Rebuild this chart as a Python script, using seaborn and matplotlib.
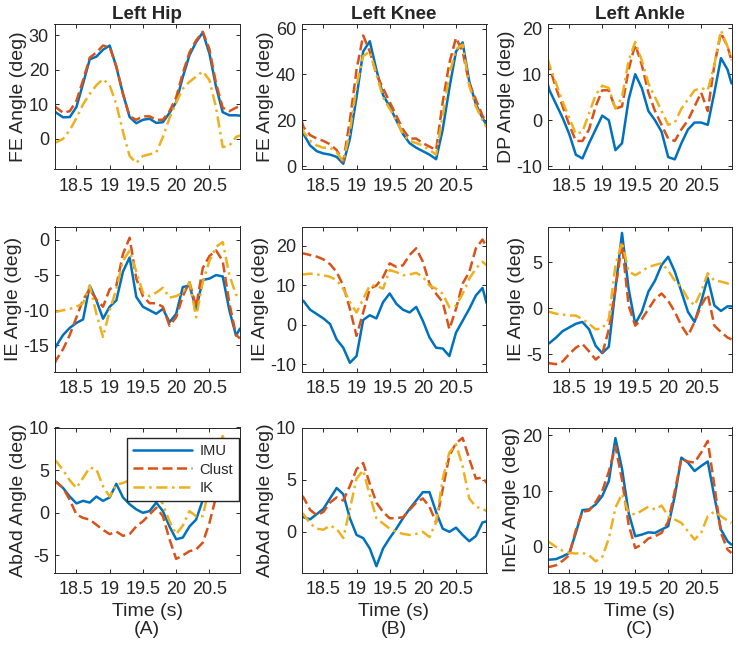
import numpy as np
import pandas as pd
import matplotlib
matplotlib.use('Agg')
import matplotlib.pyplot as plt
from matplotlib.lines import Line2D
import seaborn as sns

sns.set_style('ticks')
plt.rcParams['font.family'] = ['Liberation Sans', 'DejaVu Sans']
plt.rcParams['axes.unicode_minus'] = False

# time axis (s)
TIME = [18.17, 18.2, 18.3, 18.4, 18.5, 18.6, 18.7, 18.8, 18.9, 19.0,
        19.1, 19.2, 19.3, 19.4, 19.5, 19.6, 19.7, 19.8, 19.9, 20.0,
        20.1, 20.2, 20.3, 20.4, 20.5, 20.6, 20.7, 20.8, 20.9, 20.96]

SOURCES = ['IMU', 'Clust', 'IK']
JOINTS = ['Left Hip', 'Left Knee', 'Left Ankle']
PANEL_TAGS = ['(A)', '(B)', '(C)']
XTICKS = [18.5, 19, 19.5, 20, 20.5]
XTICK_LABELS = ['18.5', '19', '19.5', '20', '20.5']

# hip
hip_fe_imu = [8, 7.5, 6.2, 6.3, 9.2, 16, 23, 23.8, 25.8, 27, 20.8, 13, 6.3, 4.5, 5.5,
              5.8, 4.6, 4.8, 7.5, 10.6, 17.9, 24.2, 28, 30.8, 24.7, 15, 7.7, 6.8, 6.8, 6.7]
hip_fe_clust = [9.5, 9, 7.5, 8, 11, 17, 23.5, 25, 27, 26.5, 21, 13, 6.5, 5.5, 6.5,
                6.5, 5.5, 5.5, 8, 12, 19, 25, 28.5, 31, 26, 16, 9, 8, 9, 9.5]
hip_fe_ik = [-1, -1, 0, 2.5, 6, 10, 13, 15.5, 17.3, 15.5, 10, 2, -5, -7, -5,
             -4.5, -4, 0.5, 6, 10.5, 14.5, 16.5, 18, 19.5, 17, 9, -2.4, -2, 0.5, 1]

hip_ie_imu = [-15.5, -15, -13.5, -12.5, -11.8, -11.3, -6.5, -8.6, -11.2, -9.5, -8.6, -4.5, -2.5, -8.1, -9.5,
              -10, -10.5, -9.8, -11.7, -10.5, -6.7, -6.5, -9.8, -5.7, -5.5, -5, -5.2, -10, -13.6, -12.6]
hip_ie_clust = [-17.6, -17, -15.5, -13.5, -11, -8.5, -7, -8.5, -9.5, -7, -6.5, -2, 0.3, -5.5, -8,
                -9, -9, -9.5, -12.2, -11, -8, -6, -9.5, -4, -2.3, -1.5, -3, -9, -13.5, -14]
hip_ie_ik = [-10.3, -10.2, -10, -9.8, -9.5, -9, -6.5, -10.5, -13.8, -10, -7, -3, -1.5, -4.5, -7.5,
             -8, -7.5, -6.8, -8.2, -8, -7.5, -6, -11, -6, -3, -1, -0.3, -5, -7.8, -8]

hip_abad_imu = [3.7, 3.6, 2.9, 1.9, 1.1, 1.4, 1.2, 1.9, 1.4, 1.8, 3.4, 1.8, 1, 0.4, 0,
                0.2, 1.2, 0.2, -1.6, -3.1, -2.9, -1.6, -0.8, 1.5, 4.5, 6.2, 6.2, 5.5, 4.7, 4.1]
hip_abad_clust = [3.7, 3.6, 2.9, 1.5, -0.2, -0.6, -0.8, -1.4, -2.0, -2.5, -2.2, -2.7, -2.5, -1.6, -1,
                  -0.2, 0.6, -0.4, -3.1, -5.4, -5, -4.5, -4.3, -3.5, -1.2, 1.9, 3.5, 3.2, 2.9, 2.9]
hip_abad_ik = [6.2, 6, 5, 3.8, 2.9, 4.1, 5.3, 5.1, 3.1, 1.9, 3.3, 3.5, 3.8, 4, 3.5,
               3.2, 2.5, 1, -1, -2.5, -1.5, 0.2, -0.4, -0.4, 3.1, 7, 9, 7.5, 6, 5.5]

# knee
knee_fe_imu = [16, 14, 9, 6.5, 5.5, 5, 4, 1, 12, 30, 50, 54.5, 42, 31, 26,
               20, 14, 10, 8, 6.5, 5, 3, 16, 34, 50, 54, 37, 27, 21, 18]
knee_fe_clust = [20, 17, 13.5, 12, 11, 9.5, 7, 2, 20, 42, 57, 50, 40, 34, 28,
                 22, 16, 12, 12, 10, 8.5, 7, 28, 45, 56, 50, 36, 29, 22, 19]
knee_fe_ik = [17, 15, 11, 9, 8, 8, 6, 2, 15, 35, 48, 50, 40, 30, 25,
              20, 14, 11, 10, 9, 7, 5, 22, 40, 51, 53, 35, 26, 20, 17]

knee_ie_imu = [6.2, 6, 3.8, 2.7, 1.6, 0.2, -3.7, -5.8, -9.6, -7.9, 1.2, 2.4, 1.6, 5.7, 7.9,
               5.3, 3.8, 3.1, 4.5, 1, -3.2, -5.8, -6, -7.9, -2, 1, 4, 7.4, 9.3, 5.5]
knee_ie_clust = [18, 18, 17.6, 17.2, 16.5, 15.3, 13.3, 9.9, 4, -2.8, 3.1, 9.1, 9.9, 12, 15.5,
                 14.6, 15, 17.6, 19.3, 15.9, 10.4, 7.8, 5.7, -1.1, 4, 10.4, 13.3, 19.3, 21.5, 19.7]
knee_ie_ik = [12.7, 12.7, 12.9, 12.7, 12.5, 12.1, 11.2, 9.1, 5.7, 3.1, 6.5, 9.9, 9.9, 9.1, 13.8,
              13.3, 12.5, 12.7, 13.1, 12.1, 9.9, 9.1, 7.8, 4.4, 4.8, 7.8, 11.6, 14.2, 15.9, 15]

knee_abad_imu = [1.5, 1.4, 1.2, 1.7, 2.2, 3.2, 4.2, 3.6, 1.3, -0.3, -0.6, -1.6, -3.3, -1.6, -0.6,
                 0.3, 1.3, 2.2, 3.0, 3.8, 3.8, 1.9, 0.3, 0, 0.4, -0.3, -0.9, -0.4, 0.9, 1.0]
knee_abad_clust = [3.5, 3.3, 2.1, 1.6, 1.9, 2.8, 3.3, 3.0, 4.4, 6.0, 6.6, 4.6, 2.8, 1.9, 1.3,
                   1.3, 1.4, 2.1, 2.8, 3.2, 2.4, 0.9, 4.1, 7.3, 8.5, 9.0, 7.0, 5.1, 5.2, 4.7]
knee_abad_ik = [1.8, 1.7, 0.8, 0.3, 0.2, 0.6, 0.3, -0.6, 2.2, 5.1, 5.9, 3.5, 1.3, 0.8, 0.3,
                0, -0.2, -0.3, -0.2, 0, -0.5, 0.9, 5.1, 7.6, 8.4, 6.3, 3.2, 2.4, 2.2, 2.0]

# ankle
ankle_dp_imu = [8, 6.5, 3.5, 0.5, -3, -7.5, -8.3, -5, -2, 1, 0, -6.5, -5, 4.5, 10,
                7, 2, 0, -2.5, -8, -8.5, -5, -2, -0.5, -0.5, -1, 6, 13.5, 11, 8]
ankle_dp_clust = [13, 11.5, 7, 3, -1, -4.5, -4.5, -2, 3, 6.5, 6.5, 2.5, 3, 11, 16.5,
                  12, 6, 2, -1, -4, -4.5, -2, 0, 3, 6, 2, 12, 19, 16, 13]
ankle_dp_ik = [13.5, 12, 8, 4, 0.5, -3, -2.5, 1.5, 5.5, 7.5, 7, 2.5, 5, 13, 17,
               13, 8, 5, 2, -1, -0.5, 2.5, 4.5, 6.5, 7, 6.5, 12, 19.5, 16, 13]

ankle_ie_imu = [-3.9, -3.8, -3.2, -2.5, -2.1, -1.7, -1.5, -2.3, -4.1, -4.9, -4.2, 2.1, 8.2, 2.1, -1.7,
                -0.4, 1.8, 3, 4.7, 5.6, 4, 1.8, -0.4, -1.5, 0.7, 3.3, 0.3, -0.3, 0.2, 0.2]
ankle_ie_clust = [-5.9, -6, -6.1, -5.8, -5, -4.3, -3.9, -4.7, -5.6, -5, -2.3, 2.1, 7, 0.3, -1.9,
                  -1.2, -0.1, 1, 1.6, 0.8, -0.4, -1.9, -3, -1.5, 0.3, 1.5, -1.9, -2.6, -3.2, -3.4]
ankle_ie_ik = [-0.4, -0.4, -0.6, -0.7, -0.8, -0.8, -1.2, -1.7, -2.3, -2.2, -1.2, 4.7, 7.2, 4, 3.6,
               4, 4.5, 4.7, 4.9, 4.1, 3, 2.3, 1, 0.3, 1.8, 3.8, 3, 2.9, 2.7, 2.5]

ankle_inev_imu = [-2.3, -2.3, -2.2, -1.7, -1.1, 2.5, 6.6, 6.7, 7.6, 9.1, 11.8, 19.5, 14, 6.1, 1.9,
                  2.2, 2.6, 2.5, 3.1, 3.7, 9.1, 16, 15.1, 13.6, 14.5, 15.3, 9, 3.1, 1.0, 0.4]
ankle_inev_clust = [-3.5, -3.6, -3.3, -2.5, -1.5, 3, 6.3, 6.5, 8, 10, 13.5, 18, 12, 4, -0.2,
                    0.4, 1.5, 1.9, 2.5, 4.5, 10, 15.8, 15.3, 15.1, 16.9, 19, 11, 2.5, -0.5, -1.1]
ankle_inev_ik = [1.0, 0.8, 0, -0.7, -1.1, -1.2, -1.1, -1.5, -2.6, -1.8, 1.5, 7, 9.5, 6.1, 5.8,
                 6.5, 7.2, 6.7, 7.4, 5.5, 4.9, 4.3, 2.8, 1.3, 2.5, 5.5, 6.3, 5.5, 4.7, 4.3]

COLORS = {'IMU': '#0072BD', 'Clust': '#D95319', 'IK': '#EDB120'}
DASHES = {'IMU': '', 'Clust': (4, 1.8), 'IK': (4.5, 1.8, 1, 1.8)}
LW = 1.8

# (row, col, ylabel, series, ylim, yticks)
panels = [
    (0, 0, 'FE Angle (deg)', (hip_fe_imu, hip_fe_clust, hip_fe_ik), (-8.9, 33.1), [0, 10, 20, 30]),
    (0, 1, 'FE Angle (deg)', (knee_fe_imu, knee_fe_clust, knee_fe_ik), (-1.5, 61.8), [0, 20, 40, 60]),
    (0, 2, 'DP Angle (deg)', (ankle_dp_imu, ankle_dp_clust, ankle_dp_ik), (-10.7, 20.8), [-10, 0, 10, 20]),
    (1, 0, 'IE Angle (deg)', (hip_ie_imu, hip_ie_clust, hip_ie_ik), (-18.7, 1.9), [-15, -10, -5, 0]),
    (1, 1, 'IE Angle (deg)', (knee_ie_imu, knee_ie_clust, knee_ie_ik), (-11.8, 24.8), [-10, 0, 10, 20]),
    (1, 2, 'IE Angle (deg)', (ankle_ie_imu, ankle_ie_clust, ankle_ie_ik), (-6.9, 8.9), [-5, 0, 5]),
    (2, 0, 'AbAd Angle (deg)', (hip_abad_imu, hip_abad_clust, hip_abad_ik), (-7, 10), [-5, 0, 5, 10]),
    (2, 1, 'AbAd Angle (deg)', (knee_abad_imu, knee_abad_clust, knee_abad_ik), (-3.9, 10), [0, 5, 10]),
    (2, 2, 'InEv Angle (deg)', (ankle_inev_imu, ankle_inev_clust, ankle_inev_ik), (-4.6, 21.4), [0, 10, 20]),
]

W, H = 738, 649
fig = plt.figure(figsize=(W / 100, H / 100), dpi=100)

col_left = [54.5, 301.5, 547.5]
col_width = [185.5, 185, 184]
row_top = [24.5, 226.5, 427.5]
ax_h = 145

axes = {}
for row, col, ylabel, series, ylim, yticks in panels:
    l, t = col_left[col], row_top[row]
    ax = fig.add_axes([l / W, 1 - (t + ax_h) / H, col_width[col] / W, ax_h / H])
    axes[(row, col)] = ax

    n = len(TIME)
    df = pd.DataFrame({
        'Time': TIME * 3,
        'Angle': list(series[0]) + list(series[1]) + list(series[2]),
        'Source': [s for s in SOURCES for _ in range(n)],
    })
    sns.lineplot(data=df, x='Time', y='Angle', hue='Source', style='Source',
                 palette=COLORS, dashes=DASHES, hue_order=SOURCES, style_order=SOURCES,
                 linewidth=LW, estimator=None, sort=False, legend=False, ax=ax)

    ax.set_xlim(18.17, 20.96)
    ax.set_ylim(*ylim)
    ax.set_xticks(XTICKS)
    ax.set_xticklabels(XTICK_LABELS)
    ax.set_yticks(yticks)
    ax.set_yticklabels([str(v) for v in yticks])
    ax.tick_params(direction='in', length=3, width=0.7, top=True, right=True,
                   labelsize=13, colors='#262626')
    ax.tick_params(axis='y', pad=4)
    ax.tick_params(axis='x', pad=6)
    for sp in ax.spines.values():
        sp.set_color('#262626')
        sp.set_linewidth(0.7)
    ax.set_ylabel(ylabel, fontsize=14, color='#262626', labelpad=1)
    if row == 2:
        ax.set_xlabel('Time (s)\n' + PANEL_TAGS[col], fontsize=14, color='#262626',
                      labelpad=4, linespacing=1.05)
    else:
        ax.set_xlabel('')
    if row == 0:
        ax.set_title(JOINTS[col], fontsize=13.5, fontweight='bold', pad=4)

handles = [Line2D([], [], color=COLORS[s], lw=LW,
                  linestyle='-' if DASHES[s] == '' else (0, DASHES[s])) for s in SOURCES]
axes[(2, 0)].legend(handles, SOURCES, loc='upper right', bbox_to_anchor=(0.995, 0.925),
                    borderaxespad=0, fontsize=10.5, handlelength=4.1, handletextpad=0.5,
                    borderpad=0.4, labelspacing=0.3, frameon=True, fancybox=False,
                    framealpha=1, edgecolor='#262626')

fig.savefig('out.png', dpi=100)
